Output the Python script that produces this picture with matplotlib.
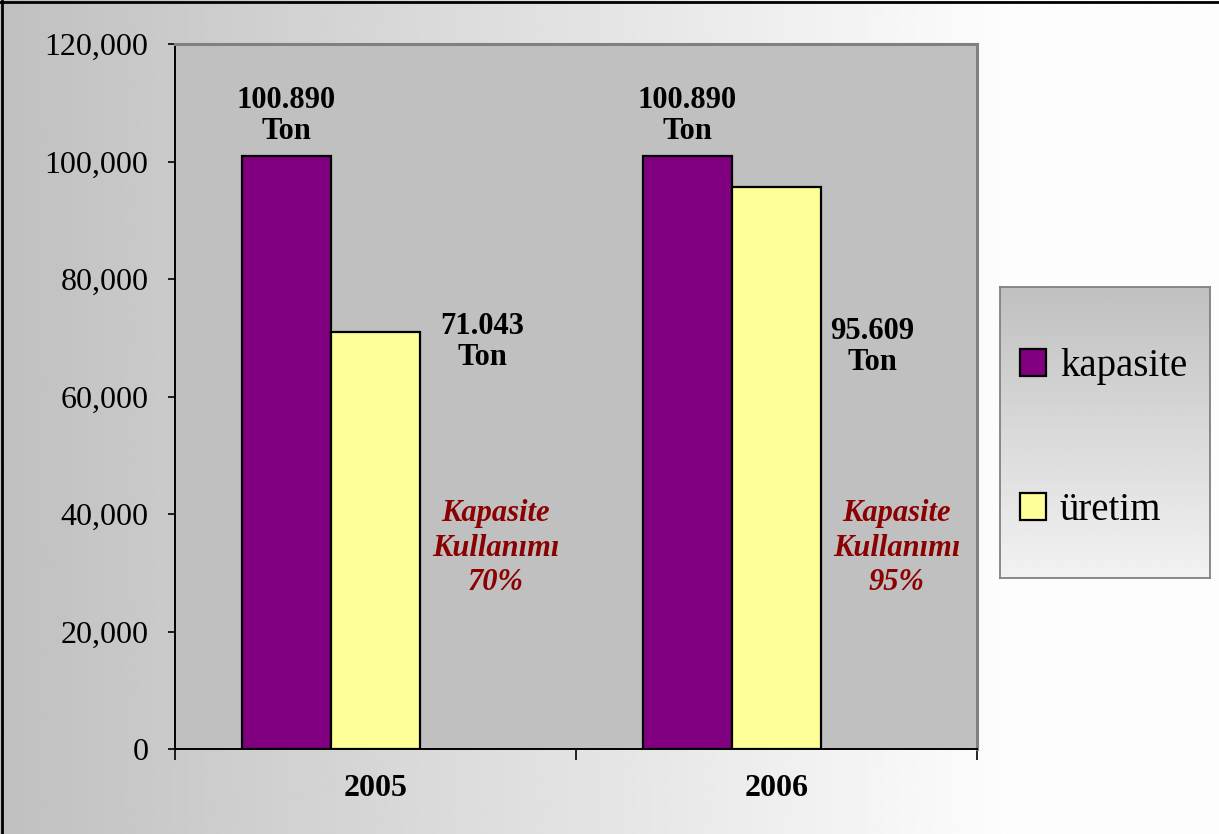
import numpy as np
import matplotlib
matplotlib.use("Agg")
import matplotlib.pyplot as plt
from matplotlib.ticker import FuncFormatter, FixedLocator

# ---- data ----
years = ["2005", "2006"]
kapasite = [100890, 100890]
uretim = [71043, 95609]
series_names = ["kapasite", "üretim"]
yticks = [0, 20000, 40000, 60000, 80000, 100000, 120000]

W, H, DPI = 1219, 834, 100
fig = plt.figure(figsize=(W / DPI, H / DPI), dpi=DPI)

serif = ["Liberation Serif", "DejaVu Serif"]

# background gradient (left gray -> right white)
bg = fig.add_axes([0, 0, 1, 1], zorder=0)
xs = np.linspace(0, 1, 600)
vals = np.clip(192 + xs * W * 0.06, 0, 253) / 255.0
img = np.tile(vals, (10, 1))
bg.imshow(img, cmap="gray", vmin=0, vmax=1, aspect="auto", extent=[0, 1, 0, 1])
bg.set_xlim(0, 1); bg.set_ylim(0, 1)
bg.axis("off")
bg.plot([0.0015, 0.0015], [0, 0.999], color="black", lw=2, transform=bg.transAxes)
bg.plot([0, 1], [0.998, 0.998], color="black", lw=2, transform=bg.transAxes)

# main axes
ax = fig.add_axes([175 / W, (H - 749) / H, (977 - 175) / W, (749 - 44) / H], zorder=2)
ax.set_facecolor("#c0c0c0")

x = np.arange(len(years))
w = 0.222
col_k = "#800080"
col_u = "#ffff99"
bk = ax.bar(x - 1.5 * w, kapasite, width=w, align="edge", color=col_k,
            edgecolor="black", linewidth=1.6, label=series_names[0], zorder=3)
bu = ax.bar(x - 0.5 * w, uretim, width=w, align="edge", color=col_u,
            edgecolor="black", linewidth=1.6, label=series_names[1], zorder=3)

ax.set_xlim(-0.5, len(years) - 0.5)
ax.set_ylim(0, 120000)
ax.set_yticks(yticks)
ax.yaxis.set_major_formatter(FuncFormatter(lambda v, p: f"{v:,.0f}"))
ax.tick_params(axis="y", direction="out", length=5, width=1.2, pad=14,
               labelsize=23, colors="black")
for lbl in ax.get_yticklabels():
    lbl.set_fontfamily(serif)

ax.xaxis.set_major_locator(FixedLocator([-0.5, 0.5, 1.5]))
ax.xaxis.set_major_formatter(FuncFormatter(lambda v, p: ""))
ax.set_xticks(list(x), years, minor=True)
ax.tick_params(axis="x", which="major", direction="out", length=8, width=1.2)
ax.tick_params(axis="x", which="minor", length=0, pad=18, labelsize=23)
for lbl in ax.get_xticklabels(minor=True):
    lbl.set_fontfamily(serif)
    lbl.set_fontweight("bold")

for s in ["left", "bottom"]:
    ax.spines[s].set_color("black")
    ax.spines[s].set_linewidth(1.4)
for s in ["top", "right"]:
    ax.spines[s].set_color("#808080")
    ax.spines[s].set_linewidth(2.2)

def fmt(v):
    return f"{v:,}".replace(",", ".")

for i in range(len(years)):
    ax.annotate(f"{fmt(kapasite[i])}\nTon", xy=(x[i] - w, kapasite[i]),
                xytext=(0, 10), textcoords="offset pixels", ha="center", va="bottom",
                fontsize=22, fontweight="bold", family=serif, zorder=5,
                linespacing=1.1)

ulabel_dx = [0.266, 0.238]
ulabel_y = [69300, 68400]
for i in range(len(years)):
    ax.text(x[i] + ulabel_dx[i], ulabel_y[i], f"{fmt(uretim[i])}\nTon",
            ha="center", va="center", fontsize=22, fontweight="bold",
            family=serif, zorder=5, linespacing=1.1)
    pct = round(uretim[i] / kapasite[i] * 100)
    ax.text(x[i] + 0.30, 34200, f"Kapasite\nKullanımı\n{pct}%",
            ha="center", va="center", fontsize=22, fontweight="bold",
            fontstyle="italic", color="#8b0000", family=serif, zorder=5,
            linespacing=1.25)

# legend box with vertical gradient
lx0, lx1, ly0, ly1 = 1000, 1210, 287, 578
lax = fig.add_axes([lx0 / W, (H - ly1) / H, (lx1 - lx0) / W, (ly1 - ly0) / H], zorder=3)
gy = np.linspace(192, 242, 300) / 255.0
lax.imshow(np.tile(gy[:, None], (1, 10)), cmap="gray", vmin=0, vmax=1,
           aspect="auto", extent=[0, 1, 0, 1])
lax.set_xticks([]); lax.set_yticks([])
for s in lax.spines.values():
    s.set_color("#808080")
    s.set_linewidth(1.3)
leg = lax.legend(handles=[bk, bu], labels=series_names, loc="center left",
                 bbox_to_anchor=(0.02, 0.48), frameon=False,
                 prop={"family": serif, "size": 28},
                 handlelength=0.68, handleheight=0.68, handletextpad=0.35,
                 labelspacing=2.75, borderaxespad=0)

fig.savefig("out.png", dpi=DPI)
